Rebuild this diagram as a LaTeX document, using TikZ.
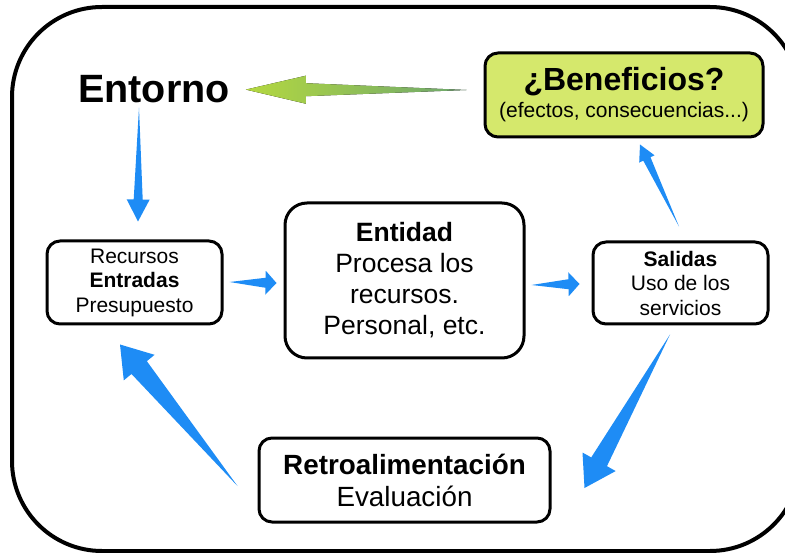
\documentclass[tikz,border=0pt]{standalone}
\usepackage{fontspec}
\setmainfont{Liberation Sans}
\usetikzlibrary{calc}
\usetikzlibrary{positioning}

\definecolor{azulseta}{RGB}{30,140,245}
\definecolor{verdecaixa}{RGB}{213,232,108}
\definecolor{verdeponta}{RGB}{180,216,64}
\definecolor{verdecauda}{RGB}{108,166,110}

\tikzset{
  caixa/.style={draw, line width=3pt, rounded corners=13pt, align=center, inner sep=0pt},
  azul/.style={fill=azulseta},
  verde/.style={left color=verdeponta, right color=verdecauda},
}

% seta afunilada: #1 estilo, #2 cauda, #3 ponta, #4 meia largura do corpo, #5 meia largura da ponta, #6 comprimento da ponta
\newcommand{\seta}[6]{%
  \path (#3) coordinate (ponta) ($(#3)!#6!(#2)$) coordinate (base);
  \fill[#1] (#2) -- ($(base)!#4!90:(ponta)$) -- ($(base)!#5!90:(ponta)$) -- (ponta)
    -- ($(base)!#5!-90:(ponta)$) -- ($(base)!#4!-90:(ponta)$) -- cycle;
}

\begin{document}
\begin{tikzpicture}[x=1pt,y=-1pt]

\useasboundingbox (0,0) rectangle (785,553);

% moldura
\draw[line width=4pt, rounded corners=90pt] (12,7) rectangle (800,551);

% caixas
\node[font=\fontsize{39.5}{42}\selectfont\bfseries, inner sep=0pt, anchor=base] (entorno) at (154,103) {Entorno};

\node[caixa, fill=verdecaixa, minimum width=278pt, minimum height=84pt,
      font=\fontsize{21}{27}\selectfont] (beneficios) at (624,95)
      {{\fontsize{32}{32}\selectfont\bfseries ¿Beneficios?}\\(efectos, consecuencias...)};

\node[caixa, minimum width=175pt, minimum height=83pt, font=\fontsize{21}{24.5}\selectfont]
      (recursos) at (134.5,282.5) {Recursos\\\textbf{Entradas}\\Presupuesto};

\node[caixa, rounded corners=22pt, minimum width=239pt, minimum height=155pt,
      font=\fontsize{26.5}{31}\selectfont]
      (entidad) at (404.5,280.5) {\textbf{Entidad}\\Procesa los\\recursos.\\Personal, etc.};

\node[caixa, minimum width=175pt, minimum height=82pt, font=\fontsize{21}{24.5}\selectfont]
      (salidas) at (680.5,283) {\textbf{Salidas}\\Uso de los\\servicios};

\node[caixa, minimum width=291pt, minimum height=84pt, font=\fontsize{27.8}{32}\selectfont]
      (retro) at (404.5,480) {\textbf{Retroalimentación}\\Evaluación};

% pontos das setas
\coordinate (c1) at ($(entorno.south)+(-15,4)$);
\coordinate (p1) at ($(recursos.north)+(3.5,-18)$);
\coordinate (c2) at ($(recursos.east)+(6,-0.5)$);
\coordinate (p2) at ($(entidad.west)+(-7,2.5)$);
\coordinate (c3) at ($(entidad.east)+(6,4.5)$);
\coordinate (p3) at ($(salidas.west)+(-12,1)$);
\coordinate (c4) at ($(salidas.north)+(-1.5,-14)$);
\coordinate (p4) at ($(beneficios.south)+(16,6)$);
\coordinate (c5) at ($(salidas.south)+(-10.5,9)$);
\coordinate (p5) at ($(retro.east)+(33,8)$);
\coordinate (c6) at ($(retro.west)+(-20,6)$);
\coordinate (p6) at ($(recursos.south)+(-14.5,19)$);
\coordinate (c7) at ($(beneficios.west)+(-17,-5)$);
\coordinate (p7) at ($(entorno.east)+(16,0)$);

% setas
\seta{azul}{c1}{p1}{4.5pt}{11.5pt}{22pt}
\seta{azul}{c2}{p2}{5pt}{12pt}{11pt}
\seta{azul}{c3}{p3}{5pt}{12pt}{11pt}
\seta{azul}{c4}{p4}{4pt}{8.5pt}{16pt}
\seta{azul}{c5}{p5}{9pt}{19pt}{30pt}
\seta{azul}{c6}{p6}{10pt}{20pt}{30pt}
\seta{verde}{c7}{p7}{6.5pt}{14pt}{60pt}

\end{tikzpicture}
\end{document}
